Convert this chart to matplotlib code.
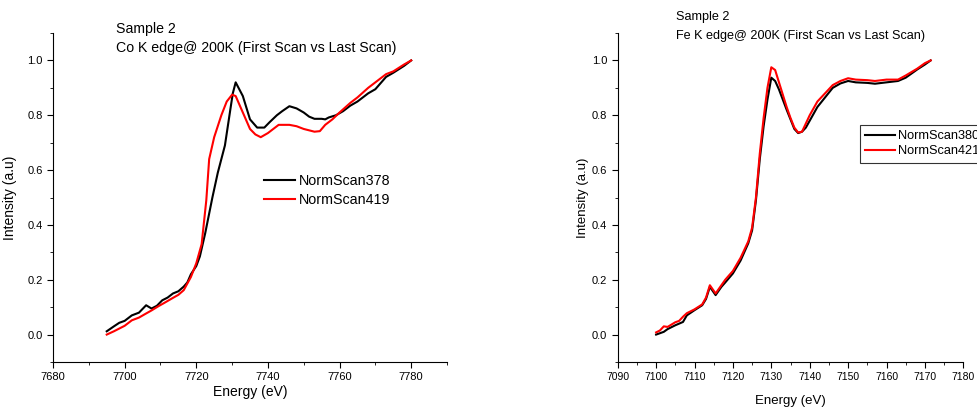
import matplotlib
matplotlib.use("Agg")
import matplotlib.pyplot as plt
from matplotlib.ticker import MultipleLocator

plt.rcParams['font.family'] = ['Liberation Sans', 'DejaVu Sans']

# Co K edge (left panel)
co_e_378 = [7695, 7697, 7698.5, 7700, 7702, 7704, 7706, 7707.5, 7709, 7710.5,
            7712, 7713.5, 7715, 7716.5, 7717.5, 7718.5, 7720, 7721, 7722.5,
            7724.5, 7726, 7728, 7729.5, 7730.2, 7731, 7732, 7733, 7735, 7737,
            7739, 7740.5, 7742.5, 7744, 7746, 7748, 7750, 7751.5, 7753, 7755,
            7756, 7757, 7759, 7761, 7763, 7765, 7768, 7770, 7773, 7775, 7778,
            7780]
co_i_378 = [0.012, 0.03, 0.043, 0.05, 0.07, 0.08, 0.107, 0.095, 0.105, 0.125,
            0.135, 0.15, 0.158, 0.175, 0.19, 0.22, 0.25, 0.285, 0.37,
            0.50, 0.59, 0.69, 0.82, 0.88, 0.92, 0.895, 0.87, 0.785, 0.755,
            0.755, 0.775, 0.80, 0.815, 0.833, 0.825, 0.81, 0.795, 0.787, 0.787,
            0.785, 0.792, 0.80, 0.815, 0.835, 0.85, 0.88, 0.895, 0.94, 0.955, 0.98,
            1.0]

co_e_419 = [7695, 7697, 7698.5, 7700, 7702, 7704, 7706, 7707.5, 7709.5, 7711,
            7713.5, 7715, 7716.5, 7718.5, 7720, 7721.5, 7722.8, 7723.6, 7725,
            7727, 7728.5, 7730, 7731, 7733, 7735, 7736.5, 7738, 7740, 7741.5,
            7743, 7746, 7748, 7750, 7753, 7754.5, 7756, 7758, 7760, 7763, 7765,
            7768, 7770, 7773, 7775, 7778, 7780]
co_i_419 = [0.0, 0.012, 0.022, 0.032, 0.052, 0.062, 0.077, 0.088, 0.104, 0.115,
            0.134, 0.145, 0.162, 0.21, 0.26, 0.33, 0.49, 0.64, 0.72,
            0.80, 0.85, 0.875, 0.87, 0.81, 0.75, 0.73, 0.72, 0.735, 0.75,
            0.765, 0.765, 0.76, 0.75, 0.74, 0.742, 0.765, 0.785, 0.81, 0.845, 0.865,
            0.90, 0.92, 0.95, 0.96, 0.985, 1.0]

# Fe K edge (right panel)
fe_e_380 = [7100, 7101, 7102, 7103, 7105, 7106, 7107, 7108, 7110, 7112,
            7113, 7114, 7115.5, 7117, 7118, 7120, 7122, 7124, 7125, 7126,
            7127, 7128, 7129, 7130, 7131, 7132, 7134, 7135, 7136, 7137, 7138,
            7139, 7140, 7142, 7144, 7146, 7148, 7150, 7152, 7155, 7157, 7160,
            7163, 7165, 7168, 7170, 7171.5]
fe_i_380 = [0.0, 0.005, 0.01, 0.02, 0.034, 0.04, 0.046, 0.07, 0.089, 0.107,
            0.13, 0.174, 0.144, 0.174, 0.19, 0.223, 0.27, 0.333, 0.38, 0.49,
            0.64, 0.76, 0.857, 0.937, 0.925, 0.894, 0.82, 0.785, 0.75, 0.735, 0.74,
            0.755, 0.78, 0.83, 0.865, 0.90, 0.916, 0.925, 0.92, 0.918, 0.915, 0.92,
            0.925, 0.937, 0.967, 0.985, 1.0]

fe_e_421 = [7100, 7101, 7102, 7103, 7105, 7106, 7107, 7108, 7110, 7112,
            7113, 7114, 7115.5, 7117, 7118, 7120, 7122, 7124, 7125, 7126,
            7127, 7128, 7129, 7130, 7131, 7132, 7134, 7135, 7136, 7137, 7138,
            7139, 7140, 7142, 7144, 7146, 7148, 7150, 7152, 7155, 7157, 7160,
            7163, 7165, 7168, 7170, 7171.5]
fe_i_421 = [0.008, 0.015, 0.03, 0.028, 0.045, 0.05, 0.065, 0.078, 0.092, 0.11,
            0.135, 0.18, 0.15, 0.18, 0.2, 0.232, 0.28, 0.34, 0.39, 0.50,
            0.66, 0.79, 0.90, 0.975, 0.965, 0.92, 0.83, 0.79, 0.755, 0.737, 0.74,
            0.77, 0.80, 0.85, 0.88, 0.91, 0.925, 0.935, 0.93, 0.928, 0.925, 0.93,
            0.93, 0.945, 0.97, 0.99, 1.0]

W, H = 978, 408
fig = plt.figure(figsize=(W / 100, H / 100), dpi=100)


def style_axis(ax, xmajor, xminor):
    ax.spines['top'].set_visible(False)
    ax.spines['right'].set_visible(False)
    ax.set_ylim(-0.1, 1.1)
    ax.yaxis.set_major_locator(MultipleLocator(0.2))
    ax.yaxis.set_minor_locator(MultipleLocator(0.1))
    ax.xaxis.set_major_locator(MultipleLocator(xmajor))
    ax.xaxis.set_minor_locator(MultipleLocator(xminor))
    ax.tick_params(which='both', direction='out', labelsize=8)
    ax.tick_params(which='major', length=4)
    ax.tick_params(which='minor', length=2)
    ax.yaxis.set_major_formatter(plt.FormatStrFormatter('%.1f'))


ax1 = fig.add_axes([53 / W, (H - 362) / H, (447 - 53) / W, (362 - 33) / H])
ax1.plot(co_e_378, co_i_378, color='black', lw=1.5, label='NormScan378')
ax1.plot(co_e_419, co_i_419, color='red', lw=1.5, label='NormScan419')
ax1.set_xlim(7680, 7790)
style_axis(ax1, 20, 10)
ax1.set_xlabel('Energy (eV)', fontsize=10, labelpad=2)
ax1.set_ylabel('Intensity (a.u)', fontsize=10, labelpad=7)
ax1.legend(loc='upper left', bbox_to_anchor=(0.52, 0.59), frameon=False,
           fontsize=10.3, handlelength=2.2, handletextpad=0.3, borderaxespad=0,
           labelspacing=0.35)
fig.text(116 / W, 1 - 29 / H, 'Sample 2', fontsize=10.2, va='center')
fig.text(116 / W, 1 - 48 / H, 'Co K edge@ 200K (First Scan vs Last Scan)',
         fontsize=10.2, va='center')

ax2 = fig.add_axes([617.7 / W, (H - 362) / H, (963.3 - 617.7) / W, (362 - 33) / H])
ax2.plot(fe_e_380, fe_i_380, color='black', lw=1.5, label='NormScan380')
ax2.plot(fe_e_421, fe_i_421, color='red', lw=1.5, label='NormScan421')
ax2.set_xlim(7090, 7180)
style_axis(ax2, 10, 5)
ax2.tick_params(axis='x', labelsize=7.5)
ax2.set_xlabel('Energy (eV)', fontsize=9.5, labelpad=9)
ax2.set_ylabel('Intensity (a.u)', fontsize=9.5, labelpad=2)
# legend box runs off the right edge, as in the original figure
leg = ax2.legend(loc='upper left', bbox_to_anchor=(0.70, 0.72), frameon=True,
                 fancybox=False, edgecolor='black', fontsize=9.2,
                 handlelength=2.4, handletextpad=0.2, borderaxespad=0,
                 borderpad=0.4, labelspacing=0.25)
leg.get_frame().set_linewidth(0.8)
fig.text(676 / W, 1 - 17 / H, 'Sample 2', fontsize=9.1, va='center')
fig.text(676 / W, 1 - 36 / H, 'Fe K edge@ 200K (First Scan vs Last Scan)',
         fontsize=9.1, va='center')

fig.savefig('out.png', dpi=100)
